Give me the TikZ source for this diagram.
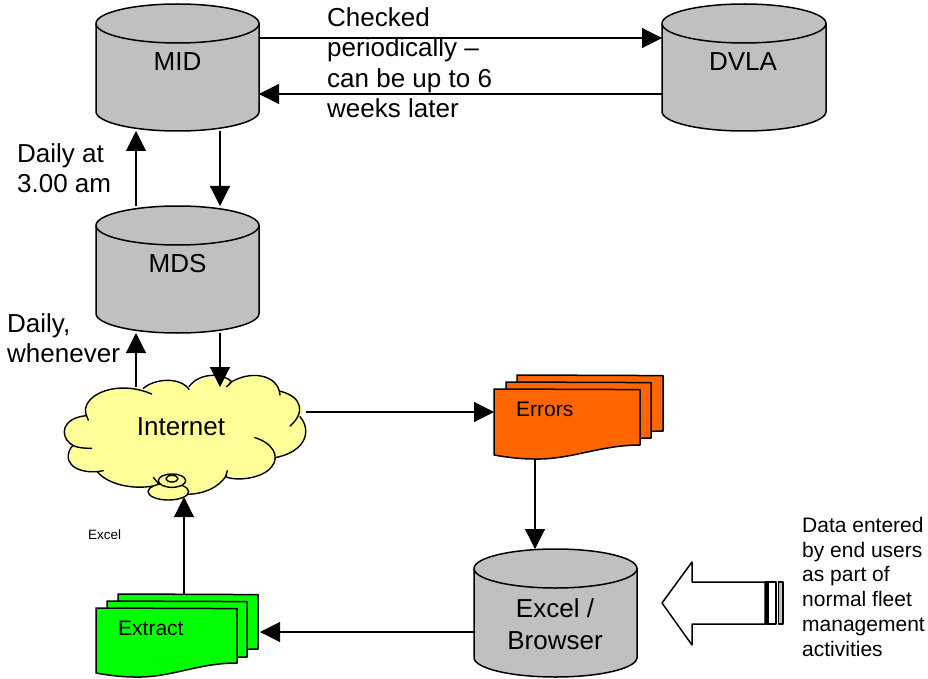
\documentclass[tikz,border=0pt]{standalone}
\usepackage{fontspec}
\setmainfont{Liberation Sans}
\usetikzlibrary{arrows.meta,calc}
\definecolor{cylgray}{RGB}{192,192,192}
\definecolor{cloudy}{RGB}{255,255,153}
\definecolor{errorg}{RGB}{255,102,0}
\definecolor{extractg}{RGB}{0,255,0}
\tikzset{
  x=1pt,y=-1pt,
  outline/.style={draw=black,line width=1.5pt,line join=round},
  conn/.style={draw=black,line width=1.1pt,-{Triangle[length=20pt,width=20pt]}},
  hitbox/.style={inner sep=0pt,outer sep=0pt},
  lbig/.style={font=\fontsize{26}{30.5}\selectfont,align=left,anchor=north west,inner sep=0pt},
  lctr/.style={font=\fontsize{26}{32}\selectfont,align=center,inner sep=0pt},
  lsmall/.style={font=\fontsize{21}{24.75}\selectfont,align=left,anchor=north west,inner sep=0pt},
  lmini/.style={font=\fontsize{13.5}{16}\selectfont,inner sep=0pt,anchor=west},
}
% name, x1, ytop, x2, ybottom, ry
\newcommand{\drumshape}[6]{%
  \pgfmathsetmacro\dCx{(#2+#4)/2}%
  \pgfmathsetmacro\dKx{0.5523*(#4-#2)/2}%
  \pgfmathsetmacro\dKy{0.5523*#6}%
  \pgfmathsetmacro\dYa{#3+#6}%
  \pgfmathsetmacro\dYb{#5-#6}%
  \pgfmathsetmacro\dYc{#3+2*#6}%
  \path[outline,fill=cylgray] (#2,\dYa) -- (#2,\dYb)
    .. controls (#2,\dYb+\dKy) and (\dCx-\dKx,#5) .. (\dCx,#5)
    .. controls (\dCx+\dKx,#5) and (#4,\dYb+\dKy) .. (#4,\dYb)
    -- (#4,\dYa)
    .. controls (#4,\dYa-\dKy) and (\dCx+\dKx,#3) .. (\dCx,#3)
    .. controls (\dCx-\dKx,#3) and (#2,\dYa-\dKy) .. (#2,\dYa) -- cycle;
  \path[outline] (#2,\dYa)
    .. controls (#2,\dYa+\dKy) and (\dCx-\dKx,\dYc) .. (\dCx,\dYc)
    .. controls (\dCx+\dKx,\dYc) and (#4,\dYa+\dKy) .. (#4,\dYa);
  \node[hitbox,minimum width={(#4-#2)*1pt},minimum height={(#5-#3)*1pt}] (#1) at (\dCx,{(#3+#5)/2}) {};
}
% one wavy sheet: x1, ytop, x2, yright, colour
\newcommand{\sheet}[5]{%
  \pgfmathsetmacro\sXm{#1+0.27*(#3-#1)}%
  \path[outline,fill=#5] (#1,#2) -- (#3,#2+0.6) -- (#3,#4)
   .. controls ({#3-40},#4) and (\sXm+37,#4+15) .. (\sXm,#4+14)
   .. controls (\sXm-13,#4+14) and (#1+11,#4+12) .. (#1,#4+10) -- cycle;
}
\begin{document}
\begin{tikzpicture}
\useasboundingbox (0,0) rectangle (928,679);
\fill[white] (0,0) rectangle (928,679);
% drums
\drumshape{mid}{96}{4}{259}{131}{19.5}
\drumshape{dvla}{662}{4}{826}{131}{19.5}
\drumshape{mds}{96}{206}{259}{333}{19.5}
\drumshape{xl}{474}{549}{637}{677}{19.5}
% sheets
\sheet{517}{375}{663}{431}{errorg}
\sheet{506}{382}{651}{438}{errorg}
\sheet{494}{389}{640}{445}{errorg}
\node[hitbox,minimum width=169pt,minimum height=84pt] (errors) at (578.5,417) {};
\sheet{118}{594}{258}{649}{extractg}
\sheet{107}{601}{247}{657}{extractg}
\sheet{96}{608}{237}{663}{extractg}
\node[hitbox,minimum width=164pt,minimum height=83pt] (extract) at (178,635.5) {};
% cloud
\begin{scope}[shift={(40,360)},x=0.33333pt,y=-0.33333pt]
\fill[cloudy] (138,160) .. controls (130,110) and (220,60) .. (315,90)
  .. controls (340,60) and (420,50) .. (450,85)
  .. controls (490,35) and (550,50) .. (572,68)
  .. controls (630,30) and (715,50) .. (718,95)
  .. controls (785,105) and (795,150) .. (782,170)
  .. controls (815,210) and (800,280) .. (705,292)
  .. controls (710,330) and (630,370) .. (558,345)
  .. controls (535,390) and (470,405) .. (420,405)
  -- (345,377)
  .. controls (270,390) and (195,370) .. (172,335)
  .. controls (120,345) and (70,310) .. (95,258)
  .. controls (55,240) and (60,175) .. (138,165) -- cycle;
\begin{scope}[outline,line width=1.4pt,line cap=round]
\draw (145,180) .. controls (138,165) and (132,150) .. (140,135)
  .. controls (160,90) and (250,65) .. (335,102);
\draw (310,85) .. controls (345,55) and (420,50) .. (447,88);
\draw (447,80) .. controls (480,35) and (550,40) .. (575,65) .. controls (572,70) and (565,76) .. (560,80);
\draw (568,70) .. controls (625,30) and (715,40) .. (720,105);
\draw (718,93) .. controls (790,110) and (795,160) .. (750,198);
\draw (780,170) .. controls (815,210) and (800,275) .. (705,293);
\draw (645,233) .. controls (700,250) and (720,290) .. (695,320)
  .. controls (670,355) and (590,365) .. (557,350) .. controls (558,345) and (560,340) .. (562,332);
\draw (560,345) .. controls (535,385) and (490,402) .. (440,403);
\draw (340,378) .. controls (270,390) and (200,370) .. (172,335);
\draw (190,332) .. controls (130,345) and (65,320) .. (90,268) .. controls (92,264) and (95,260) .. (100,256);
\draw (155,265) .. controls (120,265) and (100,260) .. (90,250)
  .. controls (60,225) and (65,175) .. (138,167);
\path[fill=cloudy] (385,395) ellipse[x radius=61,y radius=-25];
\draw (385,395) ellipse[x radius=61,y radius=-25];
\path[fill=cloudy] (396,362) ellipse[x radius=41,y radius=-20];
\draw (396,362) ellipse[x radius=41,y radius=-20];
\draw (396,356) ellipse[x radius=18,y radius=-10];
\draw (340,352) -- (356,372);
\end{scope}
\end{scope}
\node[hitbox,minimum width=243pt,minimum height=110pt] (inet) at (184.5,442) {};
\node[lctr] (inettext) at (181,427) {Internet};
% block arrow
\node[hitbox,minimum width=121pt,minimum height=83pt] (blockarrow) at (722.5,603.5) {};
\draw[outline] (662,603) -- (692,562) -- (692,582) -- (765,582) -- (765,624) -- (692,624) -- (692,645) -- cycle;
\draw[outline,fill=white,line width=1.2pt] (766,582) rectangle (776,624);
\fill[black] (765,582) rectangle (769,624);
\draw[outline,fill=cylgray,line width=1.2pt] (778.5,582) rectangle (783,624);
% column coordinates
\coordinate (colA) at (136,0);
\coordinate (colB) at (220,0);
\coordinate (colC) at (184,0);
\coordinate (colD) at (535,0);
\coordinate (rowA) at (0,38);
\coordinate (rowB) at (0,94);
\coordinate (rowC) at (0,412);
\coordinate (rowD) at (0,632);
% connectors
\draw[conn] (mid.east |- rowA) -- (dvla.west |- rowA);
\draw[conn] (dvla.west |- rowB) -- (mid.east |- rowB);
\draw[conn] (mds.north -| colA) -- (mid.south -| colA);
\draw[conn] (mid.south -| colB) -- (mds.north -| colB);
\draw[conn] (inet.north -| colA) -- (mds.south -| colA);
\draw[conn] (mds.south -| colB) -- (inet.north -| colB);
\draw[conn] (inet.east |- rowC) -- (errors.west |- rowC);
\draw[conn] (errors.south -| colD) -- (xl.north -| colD);
\draw[conn] (xl.west |- rowD) -- (extract.east |- rowD);
\draw[conn] (extract.north -| colC) -- (inet.south -| colC);
% texts
\node[lctr] (midtext) at (177.5,62) {MID};
\node[lctr] (dvlatext) at (743,62) {DVLA};
\node[lctr] (mdstext) at (177.5,264) {MDS};
\node[lctr] (xltext) at (555,624) {Excel /\\Browser};
\node[lbig] (check) at (327,7) {Checked\\periodically –\\can be up to 6\\weeks later};
\node[lbig] (daily) at (17,143) {Daily at\\3.00 am};
\node[lbig] (whenever) at (7,313) {Daily,\\whenever};
\node[lsmall] (errtext) at (516,402) {Errors};
\node[lsmall] (exttext) at (118,621) {Extract};
\node[lmini] (excelnote) at (88,535) {Excel};
\node[lsmall] (datatext) at (802,517) {Data entered\\by end users\\as part of\\normal fleet\\management\\activities};
\end{tikzpicture}
\end{document}
